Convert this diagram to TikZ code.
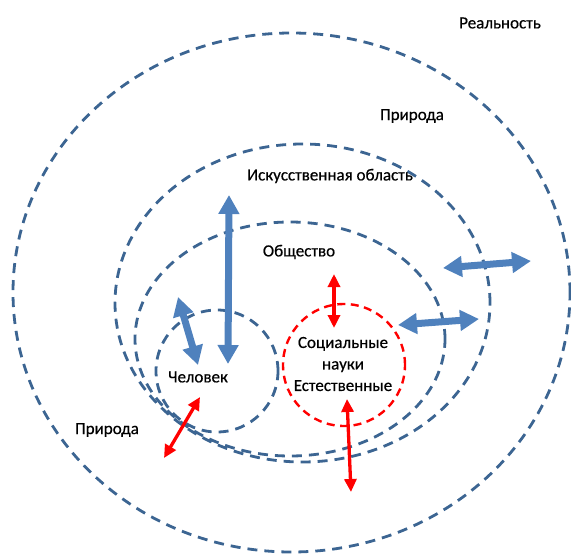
\documentclass[tikz,border=0pt]{standalone}
\usepackage{fontspec}
\setmainfont{Carlito}[FakeBold=0.5]
\usetikzlibrary{arrows.meta}
\definecolor{zoneblue}{HTML}{3C6592}
\definecolor{arrblue}{HTML}{4F81BD}
\definecolor{arrred}{HTML}{FF0000}
\tikzset{
  zone/.style={draw=zoneblue,line width=2.8pt,dash pattern=on 10pt off 7pt},
  scizone/.style={draw=arrred,line width=2.4pt,dash pattern=on 8pt off 5.5pt},
  bluearr/.style={{Triangle[width=20pt,length=19pt]}-{Triangle[width=20pt,length=19pt]},
    line width=7pt,color=arrblue},
  redarr/.style={{Triangle[width=12pt,length=13pt]}-{Triangle[width=12pt,length=13pt]},
    line width=3.3pt,color=arrred},
  lbl/.style={font=\fontsize{17}{21.5}\selectfont,text=black,align=center,inner sep=0pt},
}

\begin{document}
\begin{tikzpicture}[x=1pt,y=-1pt]
  \useasboundingbox (0,0) rectangle (571,554);

  % zones
  \draw[zone] (291.5,292.5) ellipse [x radius=278.5pt, y radius=259.5pt];
  \draw[zone] (302.5,303) ellipse [x radius=187.5pt, y radius=159pt];
  \draw[zone] (290,339) ellipse [x radius=155pt, y radius=117pt];
  \draw[zone] (217,371) circle [radius=61pt];
  \draw[scizone] (344,365) circle [radius=61pt];

  % labels
  \node[lbl] (real) at (500,23) {Реальность};
  \node[lbl] (natup) at (412,116) {Природа};
  \node[lbl] (art) at (330,176) {Искусственная область};
  \node[lbl] (soc) at (299,252) {Общество};
  \node[lbl] (man) at (198,377) {Человек};
  \node[lbl] (natlow) at (107,430) {Природа};
  \node[lbl] (sci) at (343,364) {Социальные\\науки\\Естественные};

  % arrow ends
  \coordinate (vtop) at (229,195);
  \coordinate (vbot) at (228,364);
  \coordinate (dtop) at (178,297);
  \coordinate (dbot) at (198,365);
  \coordinate (rul) at (443,268);
  \coordinate (rur) at (531,261);
  \coordinate (rll) at (398,325);
  \coordinate (rlr) at (479,319);
  \coordinate (stop) at (334,274);
  \coordinate (sbot) at (334,328);
  \coordinate (ntop) at (347,399);
  \coordinate (nbot) at (351,492);
  \coordinate (mtop) at (200,397);
  \coordinate (mbot) at (164,458);

  \draw[bluearr] (vtop) -- (vbot);
  \draw[bluearr] (dtop) -- (dbot);
  \draw[bluearr] (rul) -- (rur);
  \draw[bluearr] (rll) -- (rlr);
  \draw[redarr] (stop) -- (sbot);
  \draw[redarr] (ntop) -- (nbot);
  \draw[redarr] (mtop) -- (mbot);
\end{tikzpicture}
\end{document}
